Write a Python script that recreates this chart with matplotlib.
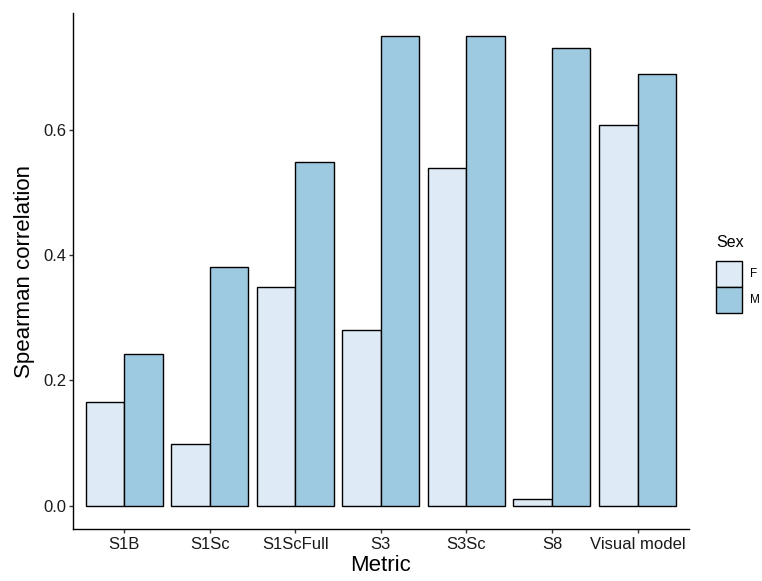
import numpy as np
import matplotlib
matplotlib.use('Agg')
import matplotlib.pyplot as plt

plt.rcParams['font.family'] = ['Liberation Sans', 'DejaVu Sans']

# Data
metrics = ['S1B', 'S1Sc', 'S1ScFull', 'S3', 'S3Sc', 'S8', 'Visual model']
female = [0.165, 0.099, 0.350, 0.280, 0.539, 0.010, 0.609]
male = [0.243, 0.381, 0.549, 0.750, 0.750, 0.731, 0.690]

col_f = '#deebf7'
col_m = '#9ecae1'

fig = plt.figure(figsize=(7.62, 5.81), dpi=100)
ax = fig.add_axes([0.0954, 0.0895, 0.904 - 0.0954, 0.9776 - 0.0895])

x = np.arange(1, len(metrics) + 1)
w = 0.45
ax.bar(x - w / 2, female, width=w, color=col_f, edgecolor='black', linewidth=1.0, label='F')
ax.bar(x + w / 2, male, width=w, color=col_m, edgecolor='black', linewidth=1.0, label='M')

ymax = max(max(female), max(male))
ax.set_ylim(-0.05 * ymax, 1.05 * ymax)
ax.set_xlim(0.4, len(metrics) + 0.6)

ax.set_xticks(x)
ax.set_xticklabels(metrics, fontsize=12, color='#1a1a1a')
ax.set_yticks([0.0, 0.2, 0.4, 0.6])
ax.set_yticklabels(['0.0', '0.2', '0.4', '0.6'], fontsize=12, color='#1a1a1a')
ax.tick_params(length=3, width=1, color='#333333', pad=1.5)
ax.tick_params(axis='x', pad=3)

for s in ['top', 'right']:
    ax.spines[s].set_visible(False)
for s in ['left', 'bottom']:
    ax.spines[s].set_linewidth(1.0)
    ax.spines[s].set_color('black')

ax.set_xlabel('Metric', fontsize=16, labelpad=2)
ax.set_ylabel('Spearman correlation', fontsize=16, labelpad=6)

leg = ax.legend(title='Sex', loc='center left', bbox_to_anchor=(1.044, 0.495),
                frameon=False, fontsize=8.5, title_fontsize=11.5,
                handlelength=2.2, handleheight=3.0, labelspacing=0.0,
                handletextpad=0.7, borderaxespad=0, borderpad=0)
leg._legend_box.align = 'left'
leg._legend_box.sep = 8

fig.savefig('out.png', dpi=100)
